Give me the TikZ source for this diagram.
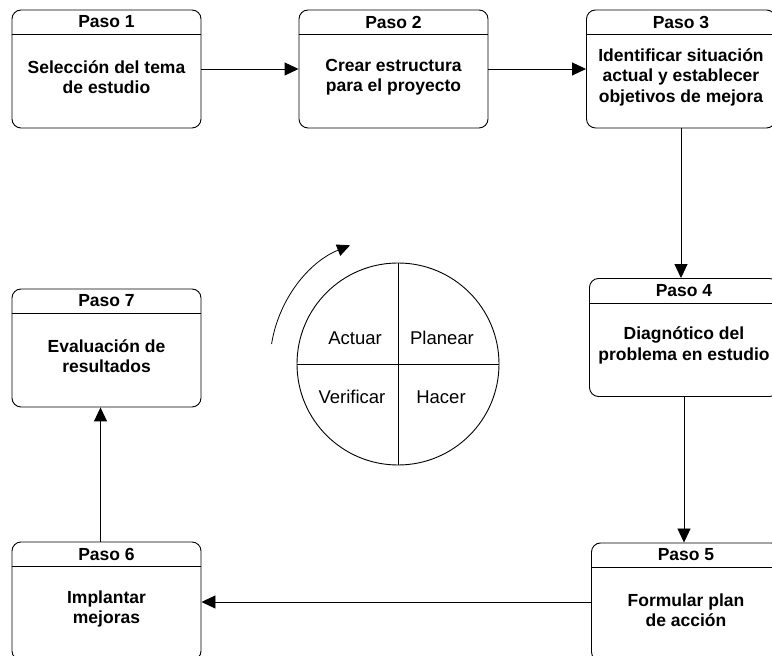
\documentclass[tikz,border=0pt]{standalone}
\usepackage{fontspec}
\setmainfont{Liberation Sans}
\usetikzlibrary{positioning}
\usetikzlibrary{shapes,arrows.meta}

\begin{document}
\begin{tikzpicture}[x=1pt,y=1pt,
  caja/.style={draw, rounded corners=9pt, minimum width=189pt, minimum height=118pt, line width=0.9pt},
  titulo/.style={font=\bfseries\fontsize{17.5}{20}\selectfont},
  cuerpo/.style={align=center, font=\bfseries\fontsize{17.5}{20.5}\selectfont},
  fase/.style={font=\fontsize{18.5}{20}\selectfont},
  flecha/.style={-{Triangle[length=14pt,width=13pt]}, line width=0.9pt}]
  \clip (0,0) rectangle (772,656);

  % pasos
  \node[caja] (p1) at (106.5,587) {};
  \node[caja] (p2) at (393.5,587) {};
  \node[caja] (p3) at (681,587) {};
  \node[caja] (p4) at (684,318.5) {};
  \node[caja] (p5) at (686,54) {};
  \node[caja] (p6) at (106.5,55) {};
  \node[caja] (p7) at (106.5,308) {};
  \foreach \p/\n in {p1/1,p2/2,p3/3,p4/4,p5/5,p6/6,p7/7} {
    \draw[line width=0.9pt] ([yshift=-25pt]\p.north west) -- ([yshift=-25pt]\p.north east);
    \node[titulo] at ([yshift=-12.5pt]\p.north) {Paso \n};
  }
  \node[cuerpo] (t1) at ([yshift=-8pt]p1.center) {Selección del tema\\de estudio};
  \node[cuerpo] (t2) at ([yshift=-8pt]p2.center) {Crear estructura\\para el proyecto};
  \node[cuerpo] (t3) at ([yshift=-8pt]p3.center) {Identificar situación\\actual y establecer\\objetivos de mejora};
  \node[cuerpo] (t4) at ([yshift=-8pt]p4.center) {Diagnótico del\\problema en estudio};
  \node[cuerpo] (t5) at ([yshift=-8pt]p5.center) {Formular plan\\de acción};
  \node[cuerpo] (t6) at ([yshift=-8pt]p6.center) {Implantar\\mejoras};
  \node[cuerpo] (t7) at ([yshift=-8pt]p7.center) {Evaluación de\\resultados};

  % flechas
  \draw[flecha] (p1) -- (p2);
  \draw[flecha] (p2) -- (p3);
  \draw[flecha] (p3.south) -- (p3.south |- p4.north);
  \draw[flecha] (p4.south) -- (p4.south |- p5.north);
  \draw[flecha] (p5.west) -- (p5.west -| p6.east);
  \draw[flecha] ([xshift=-6pt]p6.north) -- ([xshift=-6pt]p7.south);

  % ciclo PHVA
  \node[draw, circle, minimum size=202pt, line width=0.9pt] (ciclo) at (398,292) {};
  \draw[line width=0.9pt] (ciclo.north) -- (ciclo.south);
  \draw[line width=0.9pt] (ciclo.west) -- (ciclo.east);
  \node[fase] (actuar) at ([shift={(-43,26)}]ciclo.center) {Actuar};
  \node[fase] (planear) at ([shift={(44,26)}]ciclo.center) {Planear};
  \node[fase] (verificar) at ([shift={(-46,-33)}]ciclo.center) {Verificar};
  \node[fase] (hacer) at ([shift={(43,-33)}]ciclo.center) {Hacer};
  \draw[-{Triangle[length=13pt,width=12pt]}, line width=0.8pt]
    ([shift={(171:128)}]ciclo.center) arc[start angle=171, end angle=112, radius=128];
\end{tikzpicture}
\end{document}
